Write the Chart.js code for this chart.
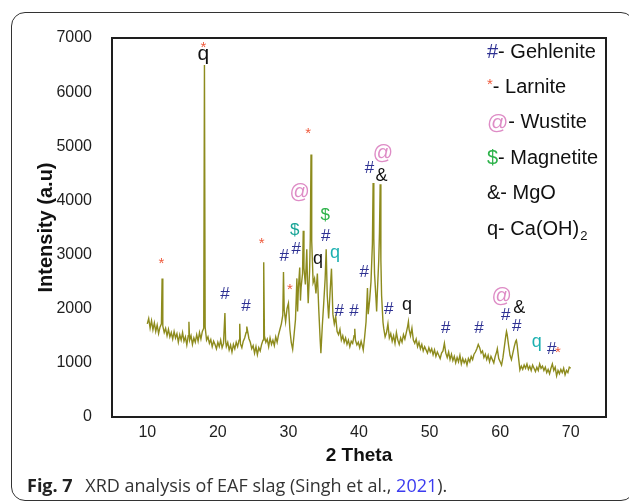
<!DOCTYPE html>
<html>
<head>
<meta charset="utf-8">
<script src="https://cdn.jsdelivr.net/npm/chart.js@4.4.1/dist/chart.umd.min.js"></script>
<style>
  html, body { margin: 0; padding: 0; background: #fff; }
  #wrap { position: relative; width: 629px; height: 504px; overflow: hidden; }
  #frame { position: absolute; left: 11px; top: 12px; width: 624px; height: 489px;
           border: 1px solid #333; border-radius: 14px; box-sizing: border-box; }
  #chart { position: absolute; left: 0; top: 0; }
  #caption { position: absolute; left: 27px; top: 473px; font: 18px "Open Sans", "Noto Sans", sans-serif;
             color: #333; white-space: nowrap; line-height: 24px; }
  #caption b { color: #222; margin-right: 8px; }
  #caption span { color: #3b3bf0; }
</style>
</head>
<body>
<div id="wrap">
  <div id="frame"></div>
  <canvas id="chart" width="629" height="504"></canvas>
  <div id="caption"><b>Fig. 7</b> XRD analysis of EAF slag (Singh et al., <span>2021</span>).</div>
</div>
<script>
// 2 theta (deg) and intensity (a.u)
const theta = [
  10.0, 10.2, 10.4, 10.6, 10.8, 11.0, 11.2, 11.4, 11.6, 11.8, 12.0, 12.1, 12.2, 12.4, 12.6, 12.8,
  13.0, 13.2, 13.4, 13.6, 13.8, 14.0, 14.2, 14.4, 14.6, 14.8, 15.0, 15.2, 15.4, 15.6, 15.8, 15.9,
  16.0, 16.2, 16.4, 16.6, 16.8, 17.0, 17.2, 17.4, 17.6, 17.8, 18.0, 18.1, 18.2, 18.4, 18.6, 18.8,
  19.0, 19.2, 19.4, 19.6, 19.8, 20.0, 20.2, 20.4, 20.6, 20.8, 21.0, 21.1, 21.2, 21.4, 21.6, 21.8,
  22.0, 22.2, 22.4, 22.6, 22.8, 23.0, 23.1, 23.2, 23.4, 23.6, 23.8, 24.0, 24.1, 24.2, 24.4, 24.6,
  24.8, 25.0, 25.2, 25.4, 25.6, 25.8, 26.0, 26.2, 26.4, 26.5, 26.6, 26.8, 27.0, 27.2, 27.4, 27.6,
  27.8, 28.0, 28.2, 28.4, 28.6, 28.8, 29.0, 29.2, 29.3, 29.4, 29.6, 29.8, 30.0, 30.2, 30.4, 30.6,
  30.8, 31.0, 31.2, 31.3, 31.4, 31.6, 31.7, 31.8, 32.0, 32.1, 32.2, 32.4, 32.6, 32.7, 32.8, 33.0,
  33.1, 33.2, 33.3, 33.5, 33.7, 33.9, 34.1, 34.3, 34.5, 34.6, 34.8, 35.0, 35.2, 35.35, 35.5, 35.7,
  35.9, 36.1, 36.3, 36.5, 36.7, 36.9, 37.1, 37.3, 37.5, 37.7, 37.9, 38.1, 38.3, 38.5, 38.7, 38.9,
  39.1, 39.3, 39.4, 39.5, 39.7, 39.9, 40.1, 40.3, 40.5, 40.6, 40.8, 41.0, 41.2, 41.3, 41.5, 41.7,
  41.9, 42.0, 42.1, 42.2, 42.4, 42.5, 42.6, 42.8, 42.9, 43.0, 43.1, 43.2, 43.4, 43.5, 43.7, 43.9,
  44.1, 44.3, 44.5, 44.7, 44.9, 45.1, 45.3, 45.5, 45.7, 45.9, 46.1, 46.3, 46.5, 46.7, 46.9, 47.0,
  47.1, 47.3, 47.5, 47.7, 47.9, 48.1, 48.3, 48.5, 48.7, 48.9, 49.1, 49.3, 49.5, 49.7, 49.9, 50.1,
  50.3, 50.5, 50.7, 50.9, 51.1, 51.3, 51.5, 51.7, 51.9, 52.1, 52.3, 52.5, 52.7, 52.9, 53.1, 53.3,
  53.5, 53.7, 53.9, 54.1, 54.3, 54.5, 54.7, 54.9, 55.1, 55.3, 55.5, 55.7, 55.9, 56.1, 56.3, 56.5,
  56.7, 56.9, 57.1, 57.3, 57.5, 57.7, 57.9, 58.1, 58.3, 58.5, 58.7, 58.9, 59.1, 59.3, 59.5, 59.6,
  59.8, 60.0, 60.2, 60.4, 60.6, 60.8, 60.9, 61.0, 61.2, 61.4, 61.6, 61.8, 62.0, 62.2, 62.3, 62.4,
  62.6, 62.8, 63.0, 63.2, 63.4, 63.6, 63.8, 64.0, 64.2, 64.4, 64.6, 64.8, 65.0, 65.2, 65.4, 65.6,
  65.8, 66.0, 66.2, 66.4, 66.6, 66.8, 67.0, 67.2, 67.4, 67.6, 67.8, 68.0, 68.2, 68.4, 68.6, 68.8,
  69.0, 69.2, 69.4, 69.6, 69.8, 70.0
];
const intensity = [
  1720, 1820, 1640, 1780, 1610, 1740, 1580, 1700, 1540, 1660, 1720, 2560, 1680, 1560, 1640, 1500,
  1620, 1480, 1560, 1440, 1580, 1460, 1540, 1380, 1520, 1420, 1560, 1400, 1480, 1330, 1500, 1760,
  1420, 1500, 1340, 1460, 1380, 1520, 1400, 1560, 1440, 1580, 1640, 6500, 1660, 1420, 1480, 1360,
  1430, 1300, 1400, 1340, 1260, 1380, 1300, 1420, 1280, 1360, 1920, 1400, 1300, 1380, 1240, 1330,
  1200, 1340, 1260, 1380, 1300, 1420, 1720, 1350, 1280, 1400, 1460, 1560, 1670, 1600, 1450, 1380,
  1260, 1320, 1180, 1300, 1150, 1280, 1220, 1340, 1420, 2860, 1500, 1380, 1440, 1300, 1460, 1340,
  1420, 1320, 1480, 1380, 1520, 1620, 1720, 1880, 2680, 1980, 1760, 2000, 2100, 1620, 1380, 1250,
  1520, 1800, 2560, 1950, 2350, 2760, 2150, 2400, 2650, 3440, 2750, 2450, 3100, 2500, 2100, 2700,
  3300, 4850, 3250, 2480, 2560, 2280, 2650, 1980, 1420, 1180, 1680, 2100, 2550, 3100, 2250, 1820,
  2300, 2740, 1900, 1720, 1850, 1580, 1520, 1620, 1420, 1500, 1380, 1460, 1340, 1420, 1300, 1400,
  1360, 1500, 1630, 1420, 1330, 1380, 1280, 1400, 1300, 1240, 1480, 1760, 2380, 1900, 2150, 2500,
  3200, 4320, 3300, 2650, 2200, 1950, 2300, 2900, 3400, 4300, 2900, 2250, 1750, 1640, 1480, 1560,
  1720, 1460, 1540, 1400, 1500, 1360, 1560, 1420, 1340, 1460, 1380, 1520, 1440, 1560, 1680, 1760,
  1620, 1500, 1640, 1420, 1360, 1440, 1300, 1380, 1260, 1340, 1220, 1300, 1240, 1180, 1280, 1200,
  1260, 1150, 1240, 1120, 1200, 1140, 1080, 1180, 1220, 1360, 1180, 1100, 1200, 1060, 1160, 1040,
  1120, 1000, 1100, 1020, 1140, 980, 1080, 1000, 1060, 960, 1080, 1020, 1120, 1060, 1160, 1200,
  1260, 1340, 1280, 1180, 1220, 1100, 1160, 1060, 1140, 1020, 1120, 1060, 1000, 1120, 1200, 1260,
  1080, 1020, 960, 1100, 1300, 1500, 1580, 1520, 1320, 1140, 1060, 1180, 1300, 1400, 1420, 1340,
  1100, 870, 940, 880, 960, 900, 980, 880, 940, 860, 960, 900, 840, 920, 860, 980,
  900, 940, 860, 920, 820, 880, 800, 900, 980, 860, 920, 760, 860, 800, 880, 820,
  900, 780, 860, 820, 920, 900
];
const xTicks = [10, 20, 30, 40, 50, 60, 70];
const yTicks = [0, 1000, 2000, 3000, 4000, 5000, 6000, 7000];

// phase markers: symbol, 2 theta, intensity, phase
const markers = [
  ['#', 21.0, 2270, 'geh'], ['#', 24.0, 2050, 'geh'], ['#', 29.4, 2960, 'geh'], ['#', 31.1, 3100, 'geh'],
  ['#', 35.3, 3330, 'geh'], ['#', 37.2, 1950, 'geh'], ['#', 39.3, 1960, 'geh'], ['#', 40.75, 2675, 'geh'],
  ['#', 41.5, 4600, 'geh'], ['#', 44.2, 1990, 'geh'], ['#', 52.3, 1630, 'geh'], ['#', 57.0, 1640, 'geh'],
  ['#', 60.8, 1885, 'geh'], ['#', 62.35, 1670, 'geh'], ['#', 67.3, 1250, 'geh'],
  ['*', 12.0, 2880, 'lar'], ['*', 17.94, 6876, 'lar'], ['*', 26.2, 3250, 'lar'], ['*', 30.2, 2410, 'lar'],
  ['*', 32.8, 5286, 'lar'], ['*', 68.2, 1238, 'lar'],
  ['@', 31.6, 4145, 'wus'], ['@', 43.4, 4874, 'wus'], ['@', 60.2, 2224, 'wus'],
  ['$', 30.9, 3440, 'magT'], ['$', 35.2, 3730, 'mag'],
  ['&', 43.2, 4442, 'mgo'], ['&', 62.7, 2010, 'mgo'],
  ['q', 17.94, 6636, 'qBig'], ['q', 34.2, 2870, 'q'], ['q', 46.8, 2010, 'q'],
  ['q', 36.6, 2976, 'qT'], ['q', 65.2, 1330, 'qT']
];

const legendRows = [
  ['#', 'geh', '- Gehlenite'],
  ['*', 'lar', '- Larnite'],
  ['@', 'wus', '- Wustite'],
  ['$', 'mag', '- Magnetite'],
  ['&', 'mgo', '- MgO'],
  ['q', 'mgo', '- Ca(OH)', '2']
];

const FONT = '"Liberation Sans", Arial, sans-serif';
const styles = {
  geh:  { color: '#2e3192', size: 17, dy: 0 },
  lar:  { color: '#ef5a3c', size: 15, dy: 3 },
  wus:  { color: '#de8cc6', size: 20, dy: 0 },
  mag:  { color: '#2db24a', size: 17, dy: 0 },
  magT: { color: '#19a597', size: 17, dy: 0 },
  mgo:  { color: '#111111', size: 18, dy: 0 },
  q:    { color: '#111111', size: 18, dy: -3 },
  qBig: { color: '#111111', size: 21, dy: -4 },
  qT:   { color: '#1cb0b0', size: 18, dy: -3 }
};

const overlay = {
  id: 'overlay',
  afterDraw(chart) {
    const { ctx, chartArea: a, scales: { x, y } } = chart;
    ctx.save();
    ctx.strokeStyle = '#1e1e1e';
    ctx.lineWidth = 2;
    ctx.strokeRect(a.left, a.top, a.right - a.left, a.bottom - a.top);

    ctx.textAlign = 'center';
    ctx.textBaseline = 'middle';
    markers.forEach(([sym, t, v, key]) => {
      const s = styles[key];
      ctx.font = s.size + 'px ' + FONT;
      ctx.fillStyle = s.color;
      ctx.fillText(sym, x.getPixelForValue(t), y.getPixelForValue(v) + s.dy);
    });

    // legend in the top right corner
    ctx.textAlign = 'left';
    const lx = a.right - 119;
    legendRows.forEach(([sym, key, text, sub], i) => {
      const ly = a.top + 14 + i * 35.4;
      const s = styles[key];
      let size = 20, dy = 0;
      if (sym === '*') { size = 15; dy = -3; }
      if (sym === '@') size = 21;
      ctx.font = size + 'px ' + FONT;
      ctx.fillStyle = s.color;
      ctx.fillText(sym, lx, ly + dy);
      let tx = lx + ctx.measureText(sym).width;
      ctx.font = '20px ' + FONT;
      ctx.fillStyle = '#111';
      ctx.fillText(text, tx, ly);
      if (sub) {
        tx += ctx.measureText(text).width + 1;
        ctx.font = '13px ' + FONT;
        ctx.fillText(sub, tx, ly + 7);
      }
    });
    ctx.restore();
  }
};

new Chart(document.getElementById('chart'), {
  type: 'line',
  data: {
    datasets: [{
      data: theta.map((t, i) => ({ x: t, y: intensity[i] })),
      borderColor: '#8d8b1d',
      borderWidth: 1.4,
      pointRadius: 0,
      tension: 0,
      fill: false
    }]
  },
  options: {
    responsive: false,
    animation: false,
    layout: { padding: { top: 38, right: 23, left: 0, bottom: 0 } },
    plugins: { legend: { display: false }, tooltip: { enabled: false } },
    scales: {
      x: {
        type: 'linear', min: 5, max: 75,
        grid: { display: false }, border: { display: false },
        afterBuildTicks: s => { s.ticks = xTicks.map(v => ({ value: v })); },
        afterFit: s => { s.height = 87; },
        ticks: { padding: -2, color: '#1e1e1e', font: { family: FONT, size: 16 },
                 callback: v => String(v) },
        title: { display: true, text: '2 Theta', color: '#111', padding: { top: 0, bottom: 37 },
                 font: { family: FONT, size: 19, weight: 'bold' } }
      },
      y: {
        min: 0, max: 7000,
        grid: { display: false }, border: { display: false },
        afterBuildTicks: s => { s.ticks = yTicks.map(v => ({ value: v })); },
        afterFit: s => { s.width = 112; },
        ticks: { padding: 12, color: '#1e1e1e', font: { family: FONT, size: 16 },
                 callback: v => String(v) },
        title: { display: true, text: 'Intensity (a.u)', color: '#111', padding: { top: 34, bottom: 0 },
                 font: { family: FONT, size: 20, weight: 'bold' } }
      }
    }
  },
  plugins: [overlay]
});
</script>
</body>
</html>
